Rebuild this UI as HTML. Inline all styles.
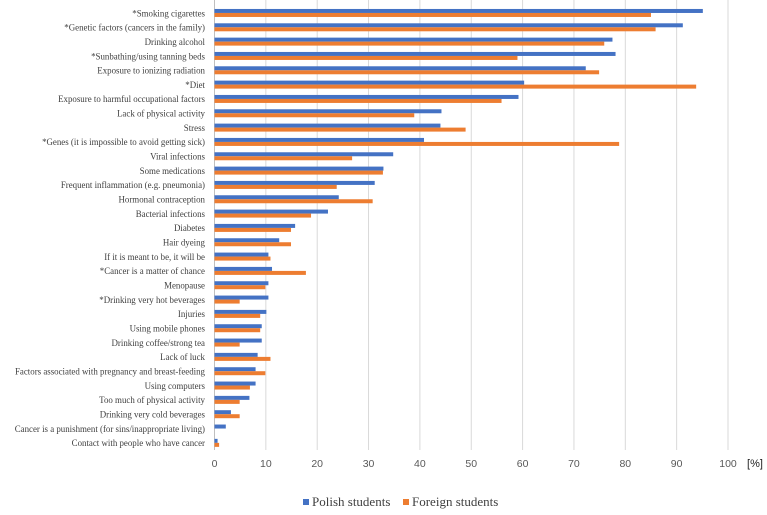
<!DOCTYPE html>
<html><head><meta charset="utf-8"><style>
html,body{margin:0;padding:0;background:#fff;}
svg{display:block;font-family:"Liberation Serif",serif;}
</style></head><body>
<svg id="chart" width="767" height="515" viewBox="0 0 767 515" xmlns="http://www.w3.org/2000/svg">
<g id="grid"></g>
<g id="bars"></g>
<g id="ylabels"></g>
<g id="xticks"></g>
<text x="755" y="467" text-anchor="middle" font-family="Liberation Sans, sans-serif" font-size="11" fill="#222">[%]</text>
<g>
<rect x="303" y="499" width="6" height="6" fill="#4472c4"/>
<text x="312" y="506" font-family="Liberation Serif, serif" font-size="13" fill="#404040">Polish students</text>
<rect x="403" y="499" width="6" height="6" fill="#ed7d31"/>
<text x="412" y="506" font-family="Liberation Serif, serif" font-size="13" fill="#404040">Foreign students</text>
</g>
</svg>
<script>
const categories = ["*Smoking cigarettes","*Genetic factors (cancers in the family)","Drinking alcohol","*Sunbathing/using tanning beds","Exposure to ionizing radiation","*Diet","Exposure to harmful occupational factors","Lack of physical activity","Stress","*Genes (it is impossible to avoid getting sick)","Viral infections","Some medications","Frequent inflammation (e.g. pneumonia)","Hormonal contraception","Bacterial infections","Diabetes","Hair dyeing","If it is meant to be, it will be","*Cancer is a matter of chance","Menopause","*Drinking very hot beverages","Injuries","Using mobile phones","Drinking coffee/strong tea","Lack of luck","Factors associated with pregnancy and breast-feeding","Using computers","Too much of physical activity","Drinking very cold beverages","Cancer is a punishment (for sins/inappropriate living)","Contact with people who have cancer"];
const polish = [95.1,91.2,77.5,78.1,72.3,60.3,59.2,44.2,44.0,40.8,34.8,32.9,31.2,24.2,22.1,15.7,12.6,10.5,11.2,10.5,10.5,10.1,9.2,9.2,8.4,8.0,8.0,6.8,3.2,2.2,0.6];
const foreign = [85.0,85.9,75.9,59.0,74.9,93.8,55.9,38.9,48.9,78.8,26.8,32.8,23.8,30.8,18.8,14.9,14.9,10.9,17.8,9.9,4.9,8.9,8.9,4.9,10.9,9.9,6.9,4.9,4.9,0,0.9];
const xTicks = [0,10,20,30,40,50,60,70,80,90,100];

const NS = "http://www.w3.org/2000/svg";
const x0 = 214.5, pxPerUnit = 5.135, rowTop = 5.8, band = 14.33;
function xs(v){ return x0 + v * pxPerUnit; }
function yc(i){ return rowTop + band * i + band / 2; }
function mk(tag, attrs, parent){
  const e = document.createElementNS(NS, tag);
  for (const k in attrs) e.setAttribute(k, attrs[k]);
  parent.appendChild(e);
  return e;
}
const grid = document.getElementById('grid');
const xt = document.getElementById('xticks');
xTicks.forEach(t => {
  const l = mk('line', {x1: xs(t), x2: xs(t), y1: 0, y2: 450, stroke: t === 0 ? '#bfbfbf' : '#d9d9d9', 'stroke-width': 1}, grid);
  
  
  const tx = mk('text', {x: xs(t), y: 467, 'text-anchor': 'middle', 'font-size': 10.5, fill: '#595959', 'font-family': 'Liberation Sans, sans-serif'}, xt);
  tx.textContent = t;
  
  
});
const bars = document.getElementById('bars');
const yl = document.getElementById('ylabels');
categories.forEach((c, i) => {
  const cy = yc(i);
  const b = mk('rect', {x: xs(0), y: cy - 4, width: xs(polish[i]) - xs(0), height: 4, fill: '#4472c4'}, bars);
  
  
  const o = mk('rect', {x: xs(0), y: cy, width: xs(foreign[i]) - xs(0), height: 4, fill: '#ed7d31'}, bars);
  
  
  const t = mk('text', {x: 205, y: cy + 3.3, 'text-anchor': 'end', 'font-size': 8.9, fill: '#404040'}, yl);
  t.textContent = c;
  
  
});
</script>
</body></html>
